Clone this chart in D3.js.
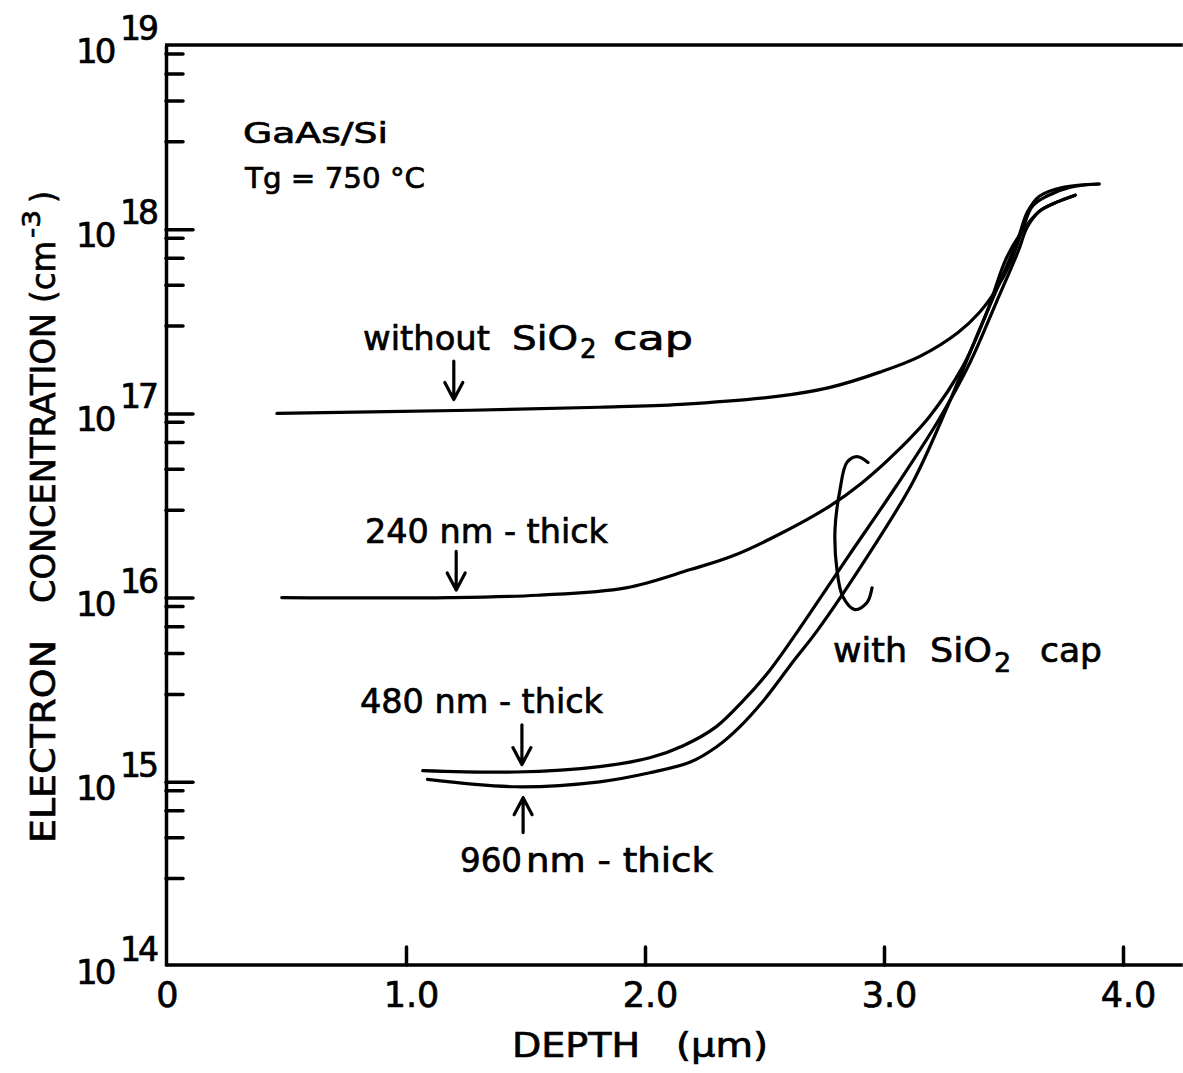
<!DOCTYPE html>
<html><head><meta charset="utf-8">
<script src="https://cdn.jsdelivr.net/npm/d3@7"></script>
<style>
body{margin:0;background:#fff;}
svg{display:block;}
text{font-family:"DejaVu Sans",sans-serif;fill:#000;stroke:#000;stroke-width:0.7px;}
</style>
</head><body>
<svg id="c" width="1183" height="1073"></svg>
<script>
// ---------- data ----------
const depthWithout = [0.46, 1.27, 1.81, 2.15, 2.56, 2.77, 2.98, 3.15, 3.31, 3.40, 3.47, 3.53, 3.58, 3.62, 3.68, 3.78, 3.90];
const concWithout  = [1.0e17, 1.04e17, 1.08e17, 1.12e17, 1.24e17, 1.38e17, 1.67e17, 2.04e17, 2.75e17, 3.54e17, 4.72e17, 6.62e17, 1.0e18, 1.33e18, 1.51e18, 1.69e18, 1.76e18];

const depth240 = [0.48, 1.18, 1.55, 1.92, 2.19, 2.36, 2.56, 2.77, 2.91, 3.05, 3.19, 3.33, 3.43, 3.51, 3.57, 3.65, 3.71, 3.80];
const conc240  = [1.0e16, 1.0e16, 1.03e16, 1.13e16, 1.42e16, 1.67e16, 2.2e16, 3.12e16, 4.22e16, 6.14e16, 9.6e16, 1.8e17, 3.54e17, 6.87e17, 9.4e17, 1.25e18, 1.38e18, 1.53e18];

const depth480 = [1.07, 1.46, 1.81, 2.02, 2.16, 2.30, 2.41, 2.52, 2.64, 2.85, 3.05, 3.23, 3.36, 3.47, 3.56, 3.60, 3.65, 3.71, 3.80];
const conc480  = [1.15e15, 1.13e15, 1.21e15, 1.35e15, 1.57e15, 2.0e15, 2.75e15, 4.0e15, 6.6e15, 1.67e16, 4.01e16, 9.27e16, 1.89e17, 4.01e17, 7.5e17, 1.03e18, 1.25e18, 1.38e18, 1.53e18];

const depth960 = [1.09, 1.46, 1.81, 2.02, 2.19, 2.30, 2.39, 2.50, 2.62, 2.72, 2.93, 3.12, 3.26, 3.40, 3.49, 3.56, 3.60, 3.65, 3.75, 3.90];
const conc960  = [1.03e15, 9.4e14, 1.0e15, 1.12e15, 1.28e15, 1.55e15, 1.95e15, 2.8e15, 4.5e15, 6.6e15, 1.67e16, 4.22e16, 1.05e17, 2.86e17, 5.35e17, 8.83e17, 1.24e18, 1.51e18, 1.69e18, 1.76e18];

// bracket grouping the "with SiO2 cap" curves
const bracketDepth = [2.933, 2.887, 2.845, 2.816, 2.795, 2.803, 2.828, 2.879, 2.929, 2.950];
const bracketConc  = [5.42e16, 5.83e16, 5.42e16, 3.86e16, 2.34e16, 1.42e16, 1.01e16, 8.6e15, 9.4e15, 1.13e16];

// arrows: [depth, tailConc, tipConc]
const arrows = [
  [1.20, 1.92e17, 1.19e17],
  [1.21, 1.78e16, 1.10e16],
  [1.485, 2.04e15, 1.24e15],
  [1.49, 5.3e14, 8.2e14]
];

const xTicks = [0, 1, 2, 3, 4];
const xTickLabels = ["0", "1.0", "2.0", "3.0", "4.0"];
const yMajor = [1e14, 1e15, 1e16, 1e17, 1e18, 1e19];
const yMajorExp = ["14", "15", "16", "17", "18", "19"];
const yMinorMult = [3, 5, 7, 9];

// ---------- drawing ----------
const svg = d3.select("#c");
const x = d3.scaleLinear().domain([0, 4.25]).range([167, 167 + 4.25 * 239]);
const y = d3.scaleLog().domain([1e14, 1e19]).range([966, 45]);

const axW = 3.5;

// y axis ticks
const minor = [];
[14,15,16,17,18].forEach(d => yMinorMult.forEach(m => minor.push(m * Math.pow(10, d))));
const gy1 = svg.append("g").attr("transform", "translate(166,0)")
  .call(d3.axisRight(y).tickValues(minor).tickSize(17).tickSizeOuter(0).tickFormat(""));
const gy2 = svg.append("g").attr("transform", "translate(166,0)")
  .call(d3.axisRight(y).tickValues([1e15,1e16,1e17,1e18]).tickSize(27).tickSizeOuter(0).tickFormat(""));
gy2.select(".domain").remove();
[gy1, gy2].forEach(g => {
  g.selectAll("line").attr("stroke", "#000").attr("stroke-width", axW).attr("stroke-linecap", "round");
  g.selectAll(".domain").attr("stroke", "#000").attr("stroke-width", axW);
});

// y tick labels
yMajor.forEach((v, i) => {
  svg.append("text").attr("x", 76).attr("y", y(v) + 18)
    .attr("font-size", 34).attr("letter-spacing", -3).text("10");
  svg.append("text").attr("x", 120).attr("y", y(v) - 5)
    .attr("font-size", 33).attr("letter-spacing", -3).text(yMajorExp[i]);
});

// top border
svg.append("line").attr("x1", x(0) - 2).attr("x2", x(4.25)).attr("y1", y(1e19)).attr("y2", y(1e19))
  .attr("stroke", "#000").attr("stroke-width", axW);

// x axis
const gx = svg.append("g").attr("transform", `translate(0,${y(1e14) - 1})`)
  .call(d3.axisBottom(x).tickValues(xTicks).tickSize(-18).tickSizeOuter(0).tickPadding(17)
    .tickFormat((d, i) => xTickLabels[i]));
gx.select(".domain").attr("stroke", "#000").attr("stroke-width", axW)
  .attr("d", `M${x(0) - 1},0H${x(4.25)}`);
gx.selectAll("line").attr("stroke", "#000").attr("stroke-width", axW).attr("stroke-linecap", "round");
gx.selectAll(".tick").filter(d => d === 0).select("line").remove();
gx.selectAll("text").attr("font-size", 35).attr("fill", "#000")
  .attr("font-family", '"DejaVu Sans",sans-serif')
  .attr("dx", (d) => d === 0 ? 0 : 5);

// curves
const line = d3.line().x(d => x(d[0])).y(d => y(d[1])).curve(d3.curveCatmullRom.alpha(0.5));
const series = [
  [depthWithout, concWithout],
  [depth240, conc240],
  [depth480, conc480],
  [depth960, conc960]
];
series.forEach(([ds, cs]) => {
  svg.append("path").datum(ds.map((d, i) => [d, cs[i]])).attr("d", line)
    .attr("fill", "none").attr("stroke", "#000").attr("stroke-width", 3.2)
    .attr("stroke-linecap", "round").attr("stroke-linejoin", "round");
});

// bracket
svg.append("path").datum(bracketDepth.map((d, i) => [d, bracketConc[i]])).attr("d", line)
  .attr("fill", "none").attr("stroke", "#000").attr("stroke-width", 3.2).attr("stroke-linecap", "round");

// arrows
arrows.forEach(([d, c0, c1]) => {
  const ax = x(d), y0 = y(c0), y1 = y(c1);
  const dir = y1 > y0 ? 1 : -1;
  svg.append("path")
    .attr("d", `M${ax},${y0}L${ax},${y1}M${ax - 9},${y1 - dir * 17}L${ax},${y1}L${ax + 9},${y1 - dir * 17}`)
    .attr("fill", "none").attr("stroke", "#000").attr("stroke-width", 3.2)
    .attr("stroke-linecap", "round").attr("stroke-linejoin", "round");
});

// text annotations
function T(parent, str, px, py, size, len) {
  const t = parent.append("text").attr("x", px).attr("y", py).attr("font-size", size).text(str);
  if (len) t.attr("textLength", len).attr("lengthAdjust", "spacingAndGlyphs");
  return t;
}
T(svg, "GaAs/Si", 243, 143, 29, 145);
T(svg, "Tg = 750 °C", 245, 188, 29, 180);

T(svg, "without", 363, 350, 34, 127);
T(svg, "SiO", 512, 350, 34, 66);
T(svg, "2", 580, 358, 26);
T(svg, "cap", 613, 350, 34, 80);

T(svg, "240 nm - thick", 365, 543, 34, 243);
T(svg, "480 nm - thick", 360, 713, 34, 243);
T(svg, "960", 460, 872, 34, 62);
T(svg, "nm - thick", 526, 872, 34, 187);

T(svg, "with", 833, 662, 34, 74);
T(svg, "SiO", 930, 662, 34, 62);
T(svg, "2", 994, 672, 27);
T(svg, "cap", 1040, 662, 34, 62);

T(svg, "DEPTH", 512, 1057, 34, 128);
T(svg, "(μm)", 676, 1057, 34, 92);

// y axis title (rotated)
const gt = svg.append("g").attr("transform", "translate(55,843) rotate(-90)");
T(gt, "ELECTRON", 0, 0, 34, 203);
T(gt, "CONCENTRATION", 240, 0, 34, 290);
T(gt, "(cm", 540, 0, 34, 62);
T(gt, "-3", 605, -15, 25, 28);
T(gt, ")", 640, 0, 34, 12);
</script>
</body></html>
